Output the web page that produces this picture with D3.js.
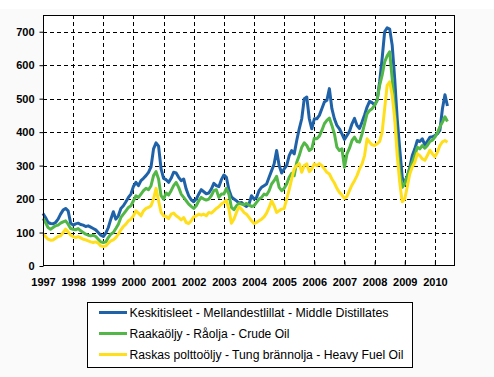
<!DOCTYPE html>
<html><head><meta charset="utf-8">
<script src="https://cdn.jsdelivr.net/npm/d3@7"></script>
<style>
html,body{margin:0;padding:0;background:#fafafa;}
svg{display:block;}
</style></head>
<body>
<svg id="chart" width="494" height="377"></svg>
<script>
// Monthly series, Jan 1997 .. Jun 2010
const startYear = 1997;
const middleDistillates = [
 157,145,130,127,126,130,140,155,167,172,165,128,
 122,126,128,124,122,118,120,116,112,108,100,92,
 88,98,115,140,162,140,150,172,180,192,205,215,
 238,250,240,255,262,270,280,296,350,368,358,290,
 262,258,250,262,280,278,265,255,260,230,210,198,
 192,200,215,228,222,216,218,230,247,240,237,258,
 272,265,228,207,200,195,188,190,183,178,185,210,
 200,205,225,235,240,245,265,285,305,345,300,278,
 290,300,330,345,335,375,410,440,500,505,440,410,
 440,440,450,470,490,495,530,470,440,420,410,395,
 378,390,402,425,441,420,411,430,451,475,492,488,
 481,495,550,620,700,712,708,660,560,440,350,265,
 250,265,295,330,350,375,372,380,362,372,385,386,
 390,395,406,470,512,478
];
const crudeOil = [
 142,130,115,110,115,120,122,128,132,135,125,112,
 110,108,112,105,100,95,92,90,92,88,80,72,
 70,72,85,95,100,112,125,145,155,165,175,180,
 195,210,205,215,225,232,228,240,270,282,260,210,
 200,218,212,225,240,250,235,215,205,195,185,178,
 172,180,195,205,200,197,200,210,225,228,205,215,
 215,232,215,175,168,180,187,185,183,187,182,178,
 180,190,200,205,215,212,225,245,255,268,235,225,
 232,245,265,277,270,310,330,355,368,360,345,350,
 382,380,388,405,425,435,442,420,395,355,345,350,
 295,335,352,375,385,372,370,395,425,455,465,470,
 480,495,540,570,610,628,640,560,460,360,280,235,
 245,270,290,310,330,355,350,360,352,360,372,376,
 385,398,416,430,446,432
];
const heavyFuelOil = [
 95,88,80,77,78,83,88,90,100,110,102,92,
 88,85,88,84,80,78,75,72,70,72,68,60,
 58,60,68,75,78,85,95,108,118,125,135,140,
 150,165,158,150,165,172,175,180,200,232,195,160,
 150,148,142,155,158,150,145,138,145,130,127,135,
 147,150,155,152,155,150,160,158,165,172,177,185,
 190,197,170,128,140,160,177,170,160,155,145,135,
 127,130,135,140,147,158,175,195,180,160,165,170,
 172,200,228,260,290,300,306,280,300,305,282,290,
 305,300,306,300,290,280,275,260,248,232,220,212,
 202,208,225,242,255,270,290,305,330,380,370,362,
 360,365,372,400,470,540,550,510,440,330,250,192,
 200,237,275,296,310,336,330,320,316,330,346,335,
 326,340,360,371,375,370
];
const yearTicks = [1997,1998,1999,2000,2001,2002,2003,2004,2005,2006,2007,2008,2009,2010];
const valueTicks = [0,100,200,300,400,500,600,700];
const seriesNames = [
 "Keskitisleet - Mellandestlillat - Middle Distillates",
 "Raakaöljy - Råolja - Crude Oil",
 "Raskas polttoöljy - Tung brännolja - Heavy Fuel Oil"
];
const seriesColors = ["#1f62a8","#52b747","#ffdf1c"];
const seriesData = [middleDistillates, crudeOil, heavyFuelOil];

const svg = d3.select("#chart");
const plot = {left:43, right:455, top:15, bottom:266};

svg.append("rect").attr("x",0).attr("y",0).attr("width",494).attr("height",9).attr("fill","#ffffff");

const x = d3.scaleLinear().domain([1997, 2010.667]).range([plot.left, plot.right]);
const y = d3.scaleLinear().domain([0, 750]).range([plot.bottom, plot.top]);

svg.append("rect").attr("x",plot.left).attr("y",plot.top)
  .attr("width",plot.right-plot.left).attr("height",plot.bottom-plot.top).attr("fill","#ffffff");

// grid
const g = svg.append("g");
g.selectAll(".hg").data(valueTicks.filter(v=>v>0)).enter().append("line")
  .attr("x1",plot.left).attr("x2",plot.right)
  .attr("y1",d=>Math.round(y(d))+0.5).attr("y2",d=>Math.round(y(d))+0.5)
  .attr("stroke","#000").attr("stroke-width",1).attr("stroke-dasharray","4,3");
g.selectAll(".vg").data(yearTicks.filter(v=>v>1997)).enter().append("line")
  .attr("y1",plot.top).attr("y2",plot.bottom)
  .attr("x1",d=>Math.round(x(d))+0.5).attr("x2",d=>Math.round(x(d))+0.5)
  .attr("stroke","#000").attr("stroke-width",1).attr("stroke-dasharray","4,3");

// lines
const line = d3.line().x((d,i)=>x(startYear + i/12)).y(d=>y(d));
seriesData.forEach((s,k)=>{
  svg.append("path").datum(s).attr("d",line).attr("fill","none")
    .attr("stroke",seriesColors[k]).attr("stroke-width",3).attr("stroke-linejoin","round");
});

// frame
svg.append("rect").attr("x",plot.left+0.5).attr("y",plot.top+0.5)
  .attr("width",plot.right-plot.left-1).attr("height",plot.bottom-plot.top-1)
  .attr("fill","none").attr("stroke","#000").attr("stroke-width",1);

// axes
const yAxis = d3.axisLeft(y).tickValues(valueTicks).tickSize(4).tickPadding(5).tickFormat(d3.format("d"));
const ya = svg.append("g").attr("transform",`translate(${plot.left+0.5},0)`).call(yAxis);
ya.select(".domain").remove();
ya.selectAll("line").attr("stroke","#000");
ya.selectAll("text").attr("font-family","Liberation Sans, Arial, sans-serif").attr("font-weight","bold").attr("font-size","11px").attr("fill","#000");

const xAxis = d3.axisBottom(x).tickValues(yearTicks).tickSize(-4).tickPadding(13).tickFormat(d3.format("d"));
const xa = svg.append("g").attr("transform",`translate(0,${plot.bottom-0.5})`).call(xAxis);
xa.select(".domain").remove();
xa.selectAll("line").attr("stroke","#000");
xa.selectAll("text").attr("font-family","Liberation Sans, Arial, sans-serif").attr("font-weight","bold").attr("font-size","11px").attr("fill","#000");

// legend
const lg = svg.append("g");
lg.append("rect").attr("x",87.5).attr("y",302.5).attr("width",325).attr("height",65)
  .attr("fill","#ffffff").attr("stroke","#000").attr("stroke-width",1);
const rowY = [312.5, 333.5, 354.5];
const textLens = [259, 160, 274];
seriesNames.forEach((n,k)=>{
  lg.append("line").attr("x1",99).attr("x2",127).attr("y1",rowY[k]).attr("y2",rowY[k])
    .attr("stroke",seriesColors[k]).attr("stroke-width",3);
  lg.append("text").attr("x",129.5).attr("y",rowY[k]+4.5).text(n)
    .attr("font-family","Liberation Sans, Arial, sans-serif").attr("font-size","12.5px").attr("fill","#000")
    .attr("textLength",textLens[k]).attr("lengthAdjust","spacingAndGlyphs");
});
</script>
</body></html>
